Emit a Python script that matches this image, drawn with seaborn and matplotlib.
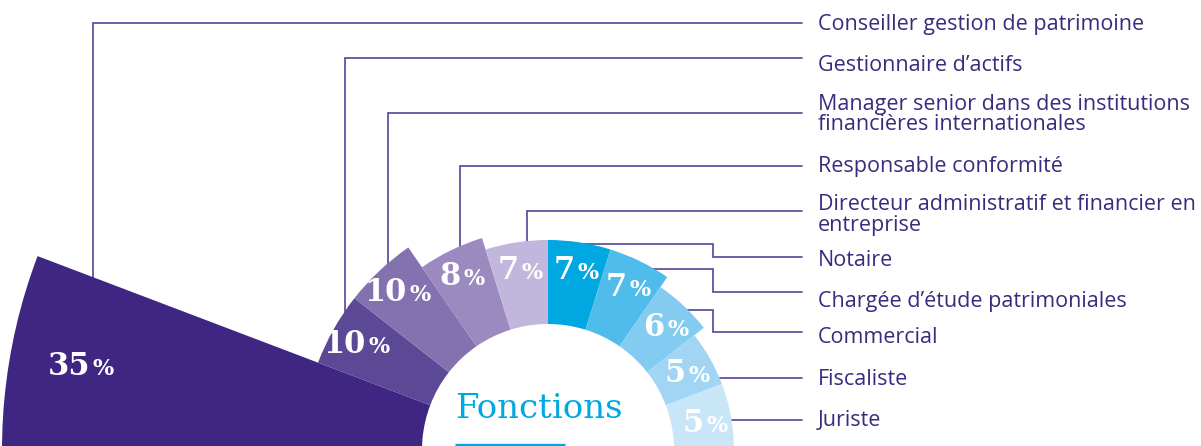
import numpy as np
import matplotlib
matplotlib.use("Agg")
import matplotlib.pyplot as plt
import seaborn as sns

# Répartition des fonctions (%)
fonctions = [
    "Conseiller gestion de patrimoine",
    "Gestionnaire d’actifs",
    "Manager senior dans des institutions\nfinancières internationales",
    "Responsable conformité",
    "Directeur administratif et financier en\nentreprise",
    "Notaire",
    "Chargée d’étude patrimoniales",
    "Commercial",
    "Fiscaliste",
    "Juriste",
]
parts = [35, 10, 10, 8, 7, 7, 7, 6, 5, 5]
couleurs = ["#3f2682", "#5c4996", "#8372af", "#9a8abf", "#c1b7dc",
            "#00a8e2", "#4fbceb", "#83cbf1", "#a2d5f4", "#c9e5f8"]
titre = "Fonctions"

sns.set_theme(style="white")
plt.rcParams["font.family"] = ["Open Sans", "DejaVu Sans"]

# layout (pixels)
W, H = 1201, 446
CX, CY = 548, 450          # centre of the ring
PX = 12.0                  # pixels per percent
HOLE = 10.5                # inner radius, in percent units
STEP = 17.3                # angular step (deg)
R_LIM = 47
LINE_COL = "#54449a"
TXT_COL = "#3b2b7f"

fig = plt.figure(figsize=(W / 100, H / 100), dpi=100)

# overlay axes in pixel coordinates for leaders / legend text
ov = fig.add_axes([0, 0, 1, 1], zorder=0)
ov.set_xlim(0, W)
ov.set_ylim(H, 0)
ov.set_axis_off()

half = R_LIM * PX
ax = fig.add_axes([(CX - half) / W, (H - CY - half) / H, 2 * half / W, 2 * half / H],
                  projection="polar", zorder=1)
ax.set_ylim(0, R_LIM)
ax.set_theta_zero_location("E")
ax.set_axis_off()
ax.patch.set_visible(False)

n = len(parts)
hi = np.array([90 + STEP * (n / 2 - i) for i in range(n)])
lo = hi - STEP
hi[0] = 190
lo[-1] = -10
mid = (hi + lo) / 2
wid = hi - lo
lab_ang = (np.clip(lo, 0, 180) + np.clip(hi, 0, 180)) / 2

ax.bar(np.deg2rad(mid), parts, width=np.deg2rad(wid), bottom=HOLE,
       color=couleurs, linewidth=0, align="center")

NUM_FS, PCT_FS = 22, 16
dig_w, pct_w, gap = 0.696 * NUM_FS, 0.95 * PCT_FS, 2
for v, a in zip(parts, lab_ang):
    r = HOLE + v - (26 + max(0, v - 10) * 1.8) / PX
    nd = len(str(v))
    total = dig_w * nd + gap + pct_w
    dx = total / 2 - pct_w - gap
    th = np.deg2rad(a)
    ax.annotate(str(v), xy=(th, r), xytext=(dx, -8), textcoords="offset points",
                ha="right", va="baseline", color="white", fontsize=NUM_FS,
                fontweight="bold", family="DejaVu Serif")
    ax.annotate("%", xy=(th, r), xytext=(dx + gap, -8), textcoords="offset points",
                ha="left", va="baseline", color="white", fontsize=PCT_FS,
                fontweight="bold", family="DejaVu Serif")

# leaders
END_X, TEXT_X, ELBOW_X = 802, 818, 713
LINE_GAP = 18.5
line_y = [23, 57.5, 113, 166, 211, 257, 292, 332, 377.5, 419.5]
base_y = [30, 71, 112, 172, 212, 266, 307, 343, 385, 426]
left_x = [93, 345, 388, 460, 527]
left_end = [300, 325, 270, 255, 255]
right_y0 = [244, 269, 310, 377.5, 419.5]
right_x0 = [570, 640, 680, 700, 715]

for i in range(5):
    ov.plot([left_x[i], left_x[i], END_X], [left_end[i], line_y[i], line_y[i]],
            color=LINE_COL, lw=1.2, solid_joinstyle="miter")
for k in range(5):
    i = k + 5
    ov.plot([right_x0[k], ELBOW_X, ELBOW_X, END_X],
            [right_y0[k], right_y0[k], line_y[i], line_y[i]],
            color=LINE_COL, lw=1.2, solid_joinstyle="miter")

# multi-line text: baseline alignment uses the last line
for lab, y in zip(fonctions, base_y):
    extra = lab.count("\n") * LINE_GAP
    ov.text(TEXT_X, y + extra, lab, color=TXT_COL, fontsize=15.5, linespacing=0.97,
            va="baseline", ha="left")

ov.text(455, 418, titre, color="#00a8e2", fontsize=24.5,
        family="DejaVu Serif", va="baseline", ha="left")
ov.plot([455, 565], [444.5, 444.5], color="#00a8e2", lw=2.4, solid_capstyle="butt")

fig.savefig("out.png", dpi=100)
